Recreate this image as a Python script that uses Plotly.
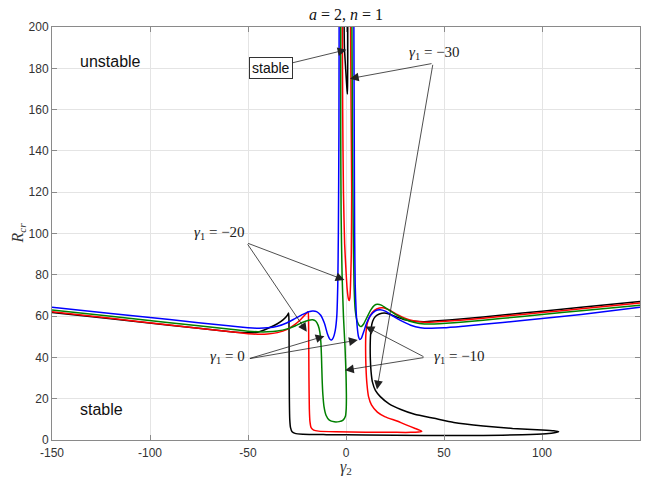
import plotly.graph_objects as go

# ---------------- data ----------------
# gamma_1 = -30 (black): main branch, and the narrow spike hanging from the top
black_x = [-150, -120, -90, -60, -50, -45, -40, -35, -32, -30, -29.3,
           -29.1, -29.0, -28.9, -28.7, -28.3, -27.5, -26, -22, -10, 10, 40, 70, 90, 102, 107, 108.5,
           106, 100, 85, 70, 55, 45, 35, 28, 22, 17.5, 15, 13.5, 12.8, 12.4, 12.4, 12.8, 13.6, 15, 17, 19.5,
           22, 26, 30, 35, 40, 45, 60, 80, 100, 120, 150]
black_y = [61.8, 58.7, 55.6, 52.6, 51.9, 52.2, 54.0, 56.3, 58.3, 60.3, 61.5,
           58, 40, 20, 10, 6, 4, 3.2, 2.8, 2.6, 2.4, 2.2, 2.2, 2.5, 3.0, 3.6, 4.0,
           4.5, 4.9, 5.6, 6.8, 8.5, 10.5, 12.5, 14.8, 17.5, 21, 24, 28, 33, 40, 48, 54, 57.5, 59.8, 61, 61.5,
           61, 59.5, 58.2, 57.5, 57.3, 57.6, 58.7, 60.5, 62.4, 64.3, 67.1]
black_spike_x = [-1.0, -0.8, -0.2, 0.4, 0.7, 0.8, 0.9, 0.9]
black_spike_y = [205, 190, 180, 171, 167.5, 172, 185, 205]

# gamma_1 = -20 (red)
red_x = [-150, -120, -90, -60, -50, -45, -40, -35, -30, -26, -23, -21, -19.8, -19.3,
         -19.1, -19.0, -18.9, -18.7, -18.4, -17.8, -16.5, -14, -5, 10, 25, 33, 37, 38.7,
         37.5, 35, 31, 26, 20, 16, 13, 11.5, 10.7, 10.2, 10.0, 10.2, 11, 12.5, 14.5, 17, 19,
         22, 26, 30, 35, 40, 45, 60, 80, 100, 120, 150]
red_y = [62.1, 58.9, 55.7, 52.5, 51.5, 51.2, 51.3, 52.0, 53.6, 56.0, 58.5, 60.5, 61.8, 62.1,
         58, 45, 30, 15, 9, 6, 4.8, 4.3, 4.0, 3.8, 3.7, 3.7, 3.9, 4.2,
         4.8, 5.7, 7.2, 9.2, 11.2, 13.5, 17.0, 21, 27, 35, 45, 52, 57, 60.5, 62.8, 63.9, 64.0,
         63.0, 60.8, 59.0, 57.6, 57.0, 57.1, 58.1, 59.9, 61.7, 63.5, 66.3]
red_spike_x = [-1.9, -1.7, -1.3, -0.7, 0.0, 0.6, 1.2, 1.6, 2.0, 2.3, 2.7, 2.9, 2.6, 2.3]
red_spike_y = [205, 160, 120, 95, 82, 73, 68.5, 67.5, 69, 75, 90, 120, 160, 205]

# gamma_1 = -10 (green): left branch with lower loop, right branch
green_left_x = [-150, -120, -90, -60, -50, -45, -40, -35, -30, -26, -22, -19, -17, -15.5, -14.2,
                -13.3, -12.8, -12.5, -12.2, -11.8, -11.2, -10.2, -8.5, -6, -3.5, -1.5, -0.3, 0.1,
                0.2, 0.0, -0.5, -1.3, -2.0, -2.5, -2.7, -2.7]
green_left_y = [63.0, 59.9, 56.8, 53.7, 52.7, 52.4, 52.4, 52.8, 53.8, 55.2, 57.0, 58.0, 58.2, 57.6, 55.5,
                52, 47, 40, 30, 22, 16, 12, 9.6, 8.8, 8.9, 9.6, 11.5, 15,
                22, 32, 45, 60, 80, 110, 150, 205]
green_right_x = [3.0, 3.3, 3.7, 4.1, 4.7, 5.7, 7.0, 7.8, 9.0, 10.5, 12.5, 14.5, 16, 18, 21, 25, 30,
                 35, 40, 45, 60, 80, 100, 120, 150]
green_right_y = [205, 150, 100, 75, 63, 57.5, 55.2, 55.0, 56.2, 59.0, 62.8, 65.2, 65.7, 65.3, 63.5,
                 61.0, 58.5, 56.9, 56.2, 56.2, 57.1, 58.9, 60.8, 62.6, 65.3]

# gamma_1 = 0 (blue)
blue_left_x = [-150, -120, -90, -60, -50, -45, -40, -35, -30, -26, -22, -19, -17, -15, -13, -11, -9.5,
               -8.2, -7.4, -6.5, -5.5, -4.7, -4.2, -3.9, -3.6, -3.5]
blue_left_y = [64.3, 61.3, 58.3, 55.3, 54.4, 54.1, 54.3, 55.1, 56.8, 58.8, 60.8, 62.1, 62.5, 62.2, 60.5,
               56.5, 51.5, 48.8, 48.4, 49.5, 53, 60, 75, 100, 150, 205]
blue_right_x = [4.0, 4.2, 4.4, 4.7, 5.2, 5.8, 6.4, 7.0, 7.8, 9, 10.5, 12.5, 15, 17.5, 20, 24, 28, 33,
                38, 43, 50, 60, 80, 100, 120, 150]
blue_right_y = [205, 150, 100, 75, 62, 54, 50, 48.7, 49.2, 52.3, 56.5, 60.3, 62.6, 63.1, 62.4, 60.0,
                57.8, 55.6, 54.4, 54.1, 54.3, 55.1, 56.9, 58.8, 60.8, 64.3]

x_ticks = [-150, -100, -50, 0, 50, 100, 150]
x_tick_text = ["-150", "-100", "-50", "0", "50", "100", "150"]
y_ticks = [0, 20, 40, 60, 80, 100, 120, 140, 160, 180, 200]
y_tick_text = [str(v) for v in y_ticks]

# annotation texts and anchor points (data units)
labels = {
    "m30": ("<i>γ</i><sub>1</sub> = −30", 45.4, 187.4),
    "m20": ("<i>γ</i><sub>1</sub> = −20", -64.3, 100.1),
    "z0": ("<i>γ</i><sub>1</sub> = 0", -60.5, 40.0),
    "m10": ("<i>γ</i><sub>1</sub> = −10", 57.9, 40.0),
}
arrow_sets = {
    "m30": ((44.4, 182.4), [(2.0, 175.0), (15.8, 24.5)]),
    "m20": ((-50.7, 95.5), [(-0.8, 77.5), (-20.0, 52.4)]),
    "z0": ((-49.8, 39.3), [(-11.0, 50.3), (6.0, 48.4)]),
    "m10": ((40.3, 40.0), [(-0.5, 33.8), (10.0, 55.0)]),
}

# ---------------- figure ----------------
fig = go.Figure()

def add_line(xs, ys, color):
    fig.add_trace(go.Scatter(x=xs, y=ys, mode="lines",
                             line=dict(color=color, width=1.5, shape="spline", smoothing=0.5),
                             showlegend=False, hoverinfo="skip"))

add_line(black_x, black_y, "#000000")
add_line(black_spike_x, black_spike_y, "#000000")
add_line(red_x, red_y, "#ff0000")
add_line(red_spike_x, red_spike_y, "#ff0000")
add_line(green_left_x, green_left_y, "#008000")
add_line(green_right_x, green_right_y, "#008000")
add_line(blue_left_x, blue_left_y, "#0000ff")
add_line(blue_right_x, blue_right_y, "#0000ff")

serif = "Liberation Serif, DejaVu Serif, serif"
sans = "Liberation Sans, Arial, sans-serif"

annotations = []
for key, (txt, tx, ty) in labels.items():
    annotations.append(dict(x=tx, y=ty, xref="x", yref="y", text=txt, showarrow=False,
                            font=dict(family=serif, size=15, color="#222")))
for key, ((ox, oy), tips) in arrow_sets.items():
    for (px, py) in tips:
        annotations.append(dict(x=px, y=py, xref="x", yref="y", ax=ox, ay=oy, axref="x", ayref="y",
                                text="", showarrow=True, arrowhead=2, arrowsize=2.2, arrowwidth=0.8,
                                arrowcolor="#222", standoff=0, startstandoff=0))

# boxed "stable" with arrow into the central gap
annotations.append(dict(x=0.2, y=189, xref="x", yref="y", ax=-38.4, ay=180.1, axref="x", ayref="y",
                        text="stable", showarrow=True, arrowhead=2, arrowsize=2.2, arrowwidth=0.8,
                        arrowcolor="#222", bordercolor="#333", borderwidth=1, borderpad=2,
                        bgcolor="white", font=dict(family=sans, size=14, color="#111")))
annotations.append(dict(x=-136.7, y=183.3, xref="x", yref="y", text="unstable", showarrow=False,
                        xanchor="left", font=dict(family=sans, size=16, color="#111")))
annotations.append(dict(x=-136.7, y=15.0, xref="x", yref="y", text="stable", showarrow=False,
                        xanchor="left", font=dict(family=sans, size=16, color="#111")))
# title and axis titles
annotations.append(dict(x=0.5, y=1, xref="paper", yref="paper", yshift=13, yanchor="middle",
                        text="<i>a</i> = 2, <i>n</i> = 1", showarrow=False,
                        font=dict(family=serif, size=16, color="#111")))
annotations.append(dict(x=0.5, y=0, xref="paper", yref="paper", yshift=-27, yanchor="middle",
                        text="<i>γ</i><sub>2</sub>", showarrow=False,
                        font=dict(family=serif, size=16, color="#333")))
annotations.append(dict(x=0, y=0.5, xref="paper", yref="paper", xshift=-34, xanchor="center",
                        yanchor="middle", textangle=-90,
                        text="<i>R</i><sub><i>cr</i></sub>", showarrow=False,
                        font=dict(family=serif, size=16, color="#333")))

axis_common = dict(showgrid=True, gridcolor="#e4e4e4", gridwidth=1, zeroline=False,
                   showline=True, linecolor="#8a8a8a", linewidth=1, mirror="allticks",
                   ticks="inside", ticklen=5, tickcolor="#8a8a8a",
                   tickfont=dict(family=sans, size=12, color="#333"))

fig.update_layout(
    width=647, height=481,
    margin=dict(l=52, r=7, t=27, b=41),
    paper_bgcolor="white", plot_bgcolor="white",
    xaxis=dict(range=[-150, 150], tickvals=x_ticks, ticktext=x_tick_text,
               ticklabelstandoff=2, **axis_common),
    yaxis=dict(range=[0, 200], tickvals=y_ticks, ticktext=y_tick_text, **axis_common),
    annotations=annotations,
    showlegend=False,
)

fig.write_html("out.html")
